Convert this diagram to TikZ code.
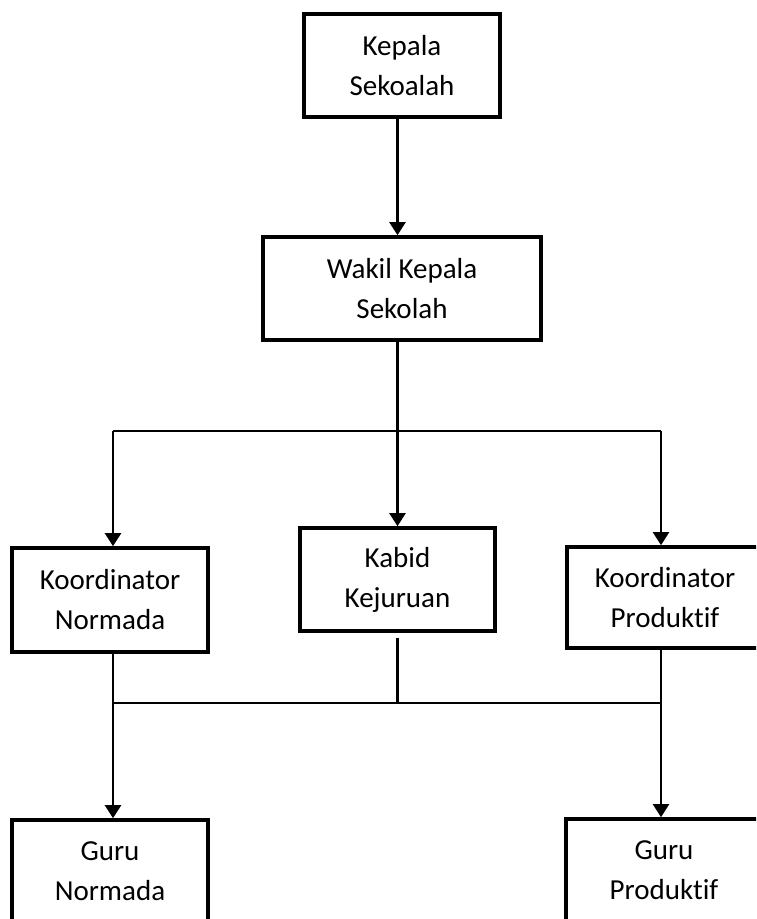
\documentclass[tikz,border=0pt]{standalone}
\usepackage{fontspec}
\setmainfont{Carlito}[Ligatures=NoCommon]
\usetikzlibrary{arrows.meta}
\begin{document}
\begin{tikzpicture}[x=1pt, y=-1pt,
  box/.style={draw, rectangle, line width=3.6pt, align=center, inner sep=0pt, font=\fontsize{29}{40}\selectfont},
  link/.style={line width=2.2pt},
  arr/.style={link, -{Triangle[length=13pt, width=16pt]}}]
\useasboundingbox (0,0) rectangle (756,919);
\clip (0,0) rectangle (756,919);
\node (kepala) [box, minimum width=196pt, minimum height=103pt] at (402,65.5) {Kepala\\Sekoalah};
\node (wakil) [box, minimum width=278pt, minimum height=103pt] at (402,288.5) {Wakil Kepala\\Sekolah};
\node (kn) [box, minimum width=196pt, minimum height=104pt] at (110,600) {Koordinator\\Normada};
\node (kabid) [box, minimum width=195pt, minimum height=103pt] at (397.5,579.5) {Kabid\\Kejuruan};
\node (kp) [box, minimum width=196pt, minimum height=101pt] at (665,597.5) {Koordinator\\Produktif};
\node (gn) [box, minimum width=196pt, minimum height=102pt] at (110,871) {Guru\\Normada};
\node (gp) [box, minimum width=196pt, minimum height=102pt] at (664,870) {Guru\\Produktif};
\coordinate (tl) at (113,431);
\coordinate (tr) at (661,431);
\coordinate (bl) at (113,703);
\coordinate (br) at (661,703);
\draw[arr] (kepala.south -| kabid) -- (wakil.north -| kabid);
\draw[arr] (wakil.south -| kabid) -- (kabid.north);
\draw[link] (tl) -- (tr);
\draw[arr] (tl) -- (tl |- kn.north);
\draw[arr] (tr) -- (tr |- kp.north);
\draw[link] (bl) -- (br);
\draw[link] ([yshift=-5pt]kabid.south) -- (kabid.south |- bl);
\draw[arr] (kn.south -| tl) -- (tl |- gn.north);
\draw[arr] (kp.south -| tr) -- (tr |- gp.north);
\end{tikzpicture}
\end{document}
